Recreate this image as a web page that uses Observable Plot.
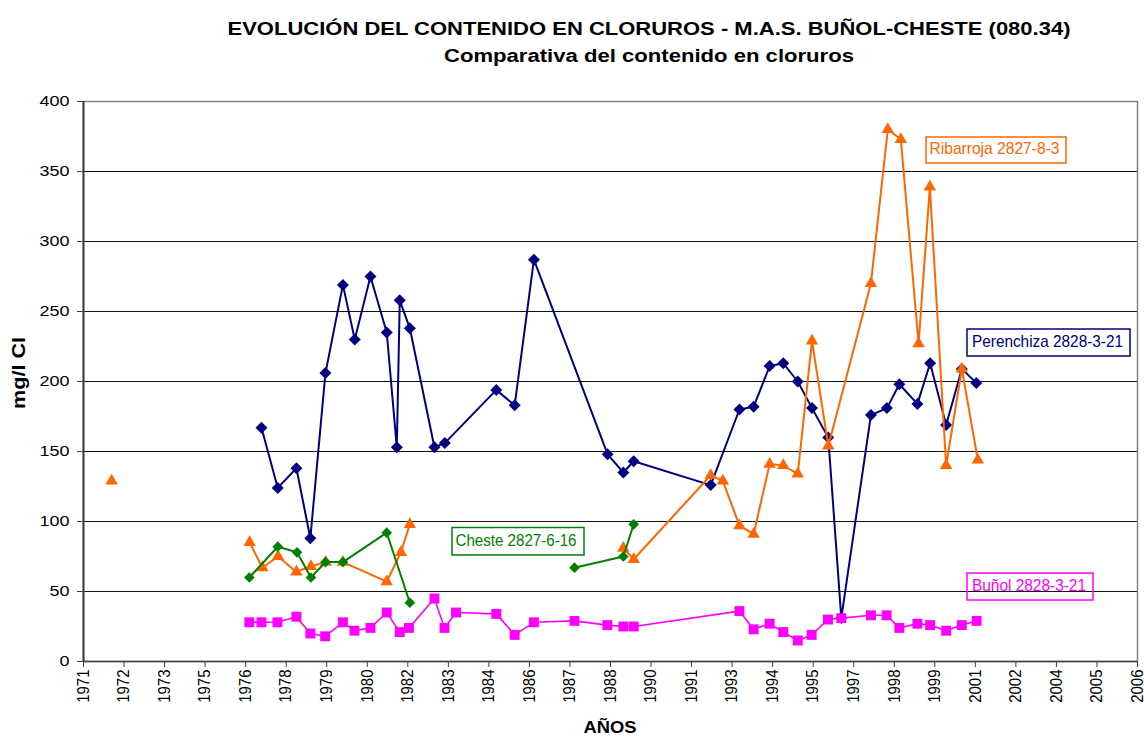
<!DOCTYPE html>
<html><head><meta charset="utf-8">
<script src="https://cdn.jsdelivr.net/npm/d3@7"></script>
<script src="https://cdn.jsdelivr.net/npm/@observablehq/plot@0.6"></script>
<style>
html,body{margin:0;padding:0;background:#fff;}
#chart{position:relative;width:1144px;height:738px;}
</style></head><body><div id="chart"></div>
<script>
// ---- data (fractional years, mg/l Cl) ; null = gap in the series ----
const perenchizaYears = [1977.19,1977.74,1978.37,1978.84,1979.35,1979.94,1980.34,1980.87,1981.42,1981.76,1981.86,1982.20,1983.03,1983.38,1985.12,1985.74,1986.39,1988.88,1989.41,1989.76,1992.36,1993.33,1993.81,1994.35,1994.81,1995.30,1995.78,1996.33,1996.77,1997.77,1998.31,1998.73,1999.34,1999.77,2000.31,2000.84,2001.33];
const perenchizaValues = [167,124,138,88,206,269,230,275,235,153,258,238,153,156,194,183,287,148,135,143,126,180,182,211,213,200,181,160,31,176,181,198,184,213,169,209,199];

const ribarrojaYears = [1972.13,null,1976.79,1977.22,1977.75,1978.37,1978.86,1979.36,1979.94,1981.42,1981.90,1982.20,null,1989.41,1989.76,1992.36,1992.77,1993.33,1993.81,1994.35,1994.81,1995.30,1995.78,1996.33,1997.77,1998.34,1998.78,1999.38,1999.76,2000.31,2000.84,2001.38];
const ribarrojaValues = [129,null,85,67,75,64,68,71,71,57,78,98,null,81,73,133,129,97,91,141,140,134,229,154,270,380,373,227,339,140,209,144];

const chesteYears = [1976.78,1977.74,1978.39,1978.86,1979.35,1979.94,1981.42,1982.20,null,1987.76,1989.41,1989.76];
const chesteValues = [60,82,78,60,71,71,92,42,null,67,75,98];

const bunolYears = [1976.78,1977.19,1977.73,1978.37,1978.84,1979.34,1979.94,1980.33,1980.87,1981.42,1981.86,1982.17,1983.03,1983.37,1983.76,1985.12,1985.74,1986.39,1987.76,1988.87,1989.41,1989.76,1993.33,1993.81,1994.35,1994.81,1995.30,1995.77,1996.32,1996.77,1997.77,1998.30,1998.73,1999.34,1999.77,2000.31,2000.84,2001.34];
const bunolValues = [28,28,28,32,20,18,28,22,24,35,21,24,45,24,35,34,19,28,29,26,25,25,36,23,27,21,15,19,30,31,33,33,24,27,26,22,26,29];

const seriesNames = ["Perenchiza 2828-3-21","Ribarroja 2827-8-3","Cheste 2827-6-16","Buñol 2828-3-21"];
const seriesColors = ["#000080","#FF6600","#008000","#FF00FF"];

const xTickLabels = ["1971","1972","1973","1975","1976","1978","1979","1980","1982","1983","1984","1986","1987","1988","1990","1991","1993","1994","1995","1997","1998","1999","2001","2002","2004","2005","2006"];
const yTicks = [0,50,100,150,200,250,300,350,400];

const titleText = "EVOLUCIÓN DEL CONTENIDO EN CLORUROS - M.A.S. BUÑOL-CHESTE (080.34)";
const subtitleText = "Comparativa del contenido en cloruros";
const xLabel = "AÑOS";
const yLabel = "mg/l Cl";

// axis of the original: date axis, major unit 500 days
const xStart = 1971.18;
const xStep = 500 / 365.25;
const xTickPositions = xTickLabels.map((_, k) => xStart + k * xStep);
const xEnd = xTickPositions[xTickPositions.length - 1];

function rows(name, years, values) {
  return years.map((x, i) => ({series: name, x, y: values[i]}));
}
const dataP = rows(seriesNames[0], perenchizaYears, perenchizaValues);
const dataR = rows(seriesNames[1], ribarrojaYears, ribarrojaValues);
const dataC = rows(seriesNames[2], chesteYears, chesteValues);
const dataB = rows(seriesNames[3], bunolYears, bunolValues);
const defined = d => d.x != null && d.y != null;

const font = "'Liberation Sans', Arial, sans-serif";

const chart = Plot.plot({
  width: 1144, height: 738,
  marginLeft: 83, marginRight: 7, marginTop: 101, marginBottom: 77,
  style: {fontFamily: font, fontSize: "15px", color: "#000", background: "#fff", overflow: "visible"},
  x: {domain: [xStart, xEnd]},
  y: {domain: [0, 400]},
  marks: [
    Plot.gridY(yTicks.slice(1), {stroke: "#111", strokeOpacity: 1, strokeWidth: 1}),
    Plot.frame({stroke: "#808080", strokeWidth: 1.5}),
    Plot.ruleX([xStart], {stroke: "#404040", strokeWidth: 2}),
    Plot.ruleY([0], {stroke: "#404040", strokeWidth: 1.5}),
    Plot.axisY(yTicks, {tickSize: 6, tickPadding: 8, fontSize: 15, label: null, stroke: "#404040"}),
    Plot.axisX(xTickPositions, {tickSize: 6, tickPadding: 2, tickRotate: -90, fontSize: 15, label: null, stroke: "#404040",
      tickFormat: d => xTickLabels[Math.round((d - xStart) / xStep)]}),
    Plot.line(dataP, {x: "x", y: "y", stroke: seriesColors[0], strokeWidth: 2}),
    Plot.dot(dataP.filter(defined), {x: "x", y: "y", symbol: "diamond2", fill: seriesColors[0], r: 5.4}),
    Plot.line(dataR, {x: "x", y: "y", stroke: seriesColors[1], strokeWidth: 2}),
    Plot.dot(dataR.filter(defined), {x: "x", y: "y", symbol: "triangle", fill: seriesColors[1], r: 4.6}),
    Plot.line(dataC, {x: "x", y: "y", stroke: seriesColors[2], strokeWidth: 2}),
    Plot.dot(dataC.filter(defined), {x: "x", y: "y", symbol: "diamond2", fill: seriesColors[2], r: 4.8}),
    Plot.line(dataB, {x: "x", y: "y", stroke: seriesColors[3], strokeWidth: 1.6}),
    Plot.dot(dataB.filter(defined), {x: "x", y: "y", symbol: "square", fill: seriesColors[3], r: 5.6})
  ]
});
document.getElementById("chart").appendChild(chart);

// the original's text is stretched horizontally: widen tick-label glyphs accordingly
const yTickStrings = yTicks.map(String);
d3.select(chart).selectAll("text").each(function() {
  const t = d3.select(this);
  const s = this.textContent;
  if (xTickLabels.includes(s)) {
    // rotated labels: taller glyphs, same length
    t.style("font-size", "16.5px").attr("textLength", 0.556 * 15 * s.length).attr("lengthAdjust", "spacingAndGlyphs");
  } else if (yTickStrings.includes(s)) {
    t.style("font-size", "15px").attr("textLength", 10 * s.length).attr("lengthAdjust", "spacingAndGlyphs");
  }
});

// ---- annotations: titles, axis titles, series label boxes ----
const svg = d3.select(chart);
const ann = svg.append("g").attr("font-family", font);
function addText(txt, x, y, opts) {
  const t = ann.append("text").attr("x", x).attr("y", y).text(txt)
    .attr("text-anchor", opts.anchor || "middle")
    .attr("font-size", opts.size || 17)
    .attr("font-weight", opts.weight || "normal")
    .attr("fill", opts.fill || "#000");
  if (opts.length) t.attr("textLength", opts.length).attr("lengthAdjust", "spacingAndGlyphs");
  if (opts.rotate) t.attr("transform", `rotate(${opts.rotate},${x},${y})`);
  return t;
}
addText(titleText, 649, 35, {size: 17.5, weight: "bold", length: 843});
addText(subtitleText, 649, 61.5, {size: 17.5, weight: "bold", length: 410});
addText(xLabel, 610, 733, {size: 17, weight: "bold", length: 53});
addText(yLabel, 25, 373, {size: 19, weight: "bold", rotate: -90, length: 72});

const boxes = [
  {i: 1, x: 926, y: 137, w: 140, h: 26, tx: 929.5, tb: 154, tl: 130},
  {i: 0, x: 967, y: 329, w: 163, h: 27, tx: 972, tb: 347, tl: 151},
  {i: 2, x: 452, y: 527.5, w: 132, h: 27.5, tx: 455.5, tb: 546, tl: 121},
  {i: 3, x: 967, y: 573, w: 126, h: 27, tx: 972, tb: 591, tl: 114}
];
boxes.forEach(b => {
  ann.append("rect").attr("x", b.x).attr("y", b.y).attr("width", b.w).attr("height", b.h)
    .attr("fill", "none").attr("stroke", seriesColors[b.i]).attr("stroke-width", 1.5);
  addText(seriesNames[b.i], b.tx, b.tb, {size: 17, anchor: "start", fill: seriesColors[b.i], length: b.tl});
});
</script></body></html>
